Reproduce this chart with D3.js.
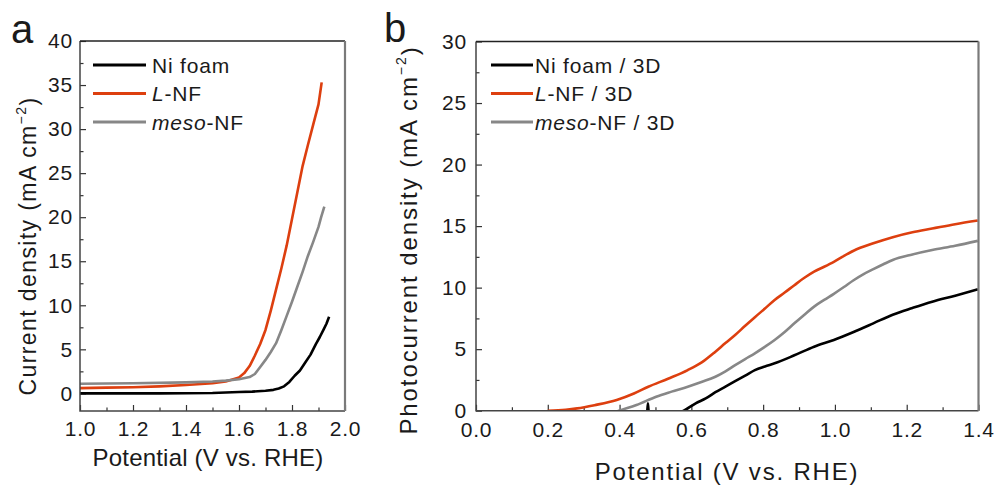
<!DOCTYPE html>
<html lang="en">
<head>
<meta charset="utf-8">
<title>LSV curves</title>
<script src="https://cdn.jsdelivr.net/npm/d3@7"></script>
<style>
  body { margin: 0; background: #fff; }
  svg text { font-family: "Liberation Sans", Arial, sans-serif; fill: #1a1a1a; }
</style>
</head>
<body>
<svg id="chart" width="999" height="487"></svg>
<script>
// ---- panel a : current density vs potential, [V, mA cm-2]
var niFoamA = [[1.0,0.0],[1.1,0.0],[1.2,0.0],[1.3,0.0],[1.4,0.02],[1.5,0.05],[1.55,0.1],[1.6,0.15],[1.65,0.2],[1.7,0.3],[1.73,0.4],[1.75,0.55],[1.77,0.8],[1.79,1.3],[1.81,2.0],[1.83,2.6],[1.85,3.5],[1.87,4.4],[1.89,5.6],[1.905,6.4],[1.92,7.3],[1.93,7.9],[1.94,8.7]];
var lNfA = [[1.0,0.6],[1.1,0.65],[1.2,0.7],[1.3,0.8],[1.4,0.95],[1.5,1.15],[1.55,1.35],[1.6,1.8],[1.62,2.3],[1.64,3.1],[1.66,4.3],[1.68,5.6],[1.7,7.2],[1.72,9.4],[1.74,11.8],[1.76,14.2],[1.78,16.8],[1.8,19.8],[1.82,22.8],[1.84,25.8],[1.86,28.2],[1.88,30.5],[1.9,32.8],[1.912,35.3]];
var mesoNfA = [[1.0,1.1],[1.2,1.15],[1.4,1.25],[1.5,1.35],[1.55,1.45],[1.6,1.6],[1.64,1.85],[1.66,2.2],[1.68,3.0],[1.7,3.8],[1.72,4.7],[1.74,5.7],[1.76,7.2],[1.78,8.8],[1.8,10.4],[1.82,12.1],[1.84,13.8],[1.86,15.6],[1.88,17.2],[1.9,18.9],[1.91,20.0],[1.922,21.2]];

// ---- panel b : photocurrent density vs potential
var niFoamB = [[0.44,-0.6],[0.476,-0.4],[0.479,0.6],[0.482,-0.4],[0.54,-0.5],[0.579,0.0],[0.612,0.6],[0.64,1.0],[0.667,1.5],[0.695,1.95],[0.722,2.4],[0.75,2.85],[0.777,3.3],[0.805,3.6],[0.832,3.85],[0.887,4.5],[0.942,5.2],[0.997,5.75],[1.052,6.4],[1.107,7.1],[1.161,7.8],[1.216,8.35],[1.271,8.86],[1.335,9.35],[1.398,9.86]];
var lNfB = [[0.2,0.0],[0.25,0.08],[0.282,0.19],[0.33,0.45],[0.392,0.87],[0.44,1.4],[0.48,1.95],[0.535,2.6],[0.59,3.3],[0.63,3.95],[0.667,4.8],[0.695,5.5],[0.722,6.15],[0.75,6.9],[0.777,7.6],[0.805,8.3],[0.832,9.0],[0.86,9.6],[0.887,10.2],[0.915,10.8],[0.942,11.3],[0.97,11.7],[0.997,12.1],[1.052,13.0],[1.107,13.6],[1.161,14.1],[1.216,14.5],[1.271,14.8],[1.335,15.15],[1.398,15.45]];
var mesoNfB = [[0.36,-0.4],[0.398,0.0],[0.447,0.46],[0.502,1.14],[0.545,1.55],[0.59,1.95],[0.63,2.35],[0.667,2.76],[0.695,3.2],[0.722,3.7],[0.75,4.2],[0.777,4.66],[0.805,5.2],[0.832,5.75],[0.86,6.4],[0.887,7.1],[0.915,7.8],[0.942,8.46],[0.97,9.0],[0.997,9.5],[1.025,10.05],[1.052,10.6],[1.08,11.1],[1.107,11.5],[1.135,11.9],[1.161,12.25],[1.216,12.7],[1.271,13.06],[1.335,13.4],[1.398,13.8]];

// ticks
var xTicksA = [1.0, 1.2, 1.4, 1.6, 1.8, 2.0];
var yTicksA = [0, 5, 10, 15, 20, 25, 30, 35, 40];
var xTicksB = [0.0, 0.2, 0.4, 0.6, 0.8, 1.0, 1.2, 1.4];
var yTicksB = [0, 5, 10, 15, 20, 25, 30];

// legend labels, pieces are [text, italic]
var legendA = [[["Ni foam", false]], [["L", true], ["-NF", false]], [["meso", true], ["-NF", false]]];
var legendB = [[["Ni foam / 3D", false]], [["L", true], ["-NF / 3D", false]], [["meso", true], ["-NF / 3D", false]]];

var colors = ["#000000", "#dd3f0f", "#878787"];

var svg = d3.select("#chart");

function drawPanel(p) {
  var x = d3.scaleLinear().domain(p.xDomain).range([p.left, p.right]);
  var y = d3.scaleLinear().domain(p.yDomain).range([p.bottom, p.top]);
  var g = svg.append("g");

  g.append("clipPath").attr("id", p.id + "-clip")
    .append("rect")
      .attr("x", p.left).attr("y", p.top)
      .attr("width", p.right - p.left).attr("height", p.bottom - p.top);

  // minor ticks halfway between the major ones
  var xMinor = [], yMinor = [];
  for (var i = 0; i < p.xTicks.length - 1; i++) xMinor.push((p.xTicks[i] + p.xTicks[i+1]) / 2);
  for (var j = 0; j < p.yTicks.length - 1; j++) yMinor.push((p.yTicks[j] + p.yTicks[j+1]) / 2);

  g.append("g").attr("transform", "translate(0," + p.bottom + ")")
    .call(d3.axisBottom(x).tickValues(xMinor).tickSize(-3.5).tickSizeOuter(0).tickFormat(""));
  g.append("g").attr("transform", "translate(" + p.left + ",0)")
    .call(d3.axisLeft(y).tickValues(yMinor).tickSize(-3.5).tickSizeOuter(0).tickFormat(""));

  g.append("g").attr("transform", "translate(0," + p.bottom + ")")
    .call(d3.axisBottom(x).tickValues(p.xTicks).tickSize(-6).tickSizeOuter(0)
      .tickPadding(p.xPad).tickFormat(d3.format(".1f")));
  g.append("g").attr("transform", "translate(" + p.left + ",0)")
    .call(d3.axisLeft(y).tickValues(p.yTicks).tickSize(-6).tickSizeOuter(0)
      .tickPadding(p.yPad).tickFormat(d3.format("d")));

  g.selectAll(".domain").remove();
  g.selectAll(".tick line").attr("stroke", "#333").attr("stroke-width", 1.2);
  g.selectAll(".tick text").attr("font-size", 21).attr("fill", "#1a1a1a")
    .style("font-family", '"Liberation Sans", Arial, sans-serif').style("letter-spacing", "0.8px");

  // curves
  var line = d3.line().curve(p.curve)
    .x(function(d) { return x(d[0]); }).y(function(d) { return y(d[1]); });
  g.append("g").attr("clip-path", "url(#" + p.id + "-clip)")
    .selectAll("path").data(p.series).enter().append("path")
      .attr("d", line)
      .attr("fill", "none")
      .attr("stroke", function(d, i) { return colors[i]; })
      .attr("stroke-width", 2.6)
      .attr("stroke-linejoin", "round");

  // frame
  g.append("path")
    .attr("d", "M" + p.left + "," + p.top + "V" + p.bottom + "H" + p.right)
    .attr("fill", "none").attr("stroke", "#444").attr("stroke-width", 1.5);
  g.append("line").attr("x1", p.left).attr("x2", p.right).attr("y1", p.top).attr("y2", p.top)
    .attr("stroke", "#222").attr("stroke-width", 1.5);
  g.append("line").attr("x1", p.right).attr("x2", p.right).attr("y1", p.top).attr("y2", p.bottom)
    .attr("stroke", "#7a7a7a").attr("stroke-width", 2.2);

  // legend
  p.legend.forEach(function(lab, i) {
    var ly = p.legY + i * 28.5;
    g.append("line").attr("x1", p.legX).attr("x2", p.legX + p.legLen)
      .attr("y1", ly).attr("y2", ly)
      .attr("stroke", colors[i]).attr("stroke-width", 3);
    var t = g.append("text").attr("x", p.legX + p.legLen + p.legGap).attr("y", ly)
      .attr("dy", "0.36em").attr("font-size", 21).style("letter-spacing", "0.8px");
    lab.forEach(function(piece) {
      t.append("tspan").text(piece[0]).attr("font-style", piece[1] ? "italic" : "normal");
    });
  });

  // axis titles
  g.append("text").attr("x", p.xTitle[0]).attr("y", p.xTitle[1])
    .attr("text-anchor", "middle").attr("dy", "0.36em")
    .attr("font-size", p.xTitleSize).style("letter-spacing", p.xTitleLs + "px")
    .text("Potential (V vs. RHE)");

  var yt = g.append("text")
    .attr("transform", "translate(" + p.yTitle[0] + "," + p.yTitle[1] + ") rotate(-90)")
    .attr("text-anchor", "middle").attr("dy", "0.36em")
    .attr("font-size", p.yTitleSize).style("letter-spacing", p.yTitleLs + "px");
  yt.append("tspan").text(p.yLabel + " (mA cm");
  yt.append("tspan").attr("font-size", 14).attr("dy", "-0.75em").text("\u22122");
  yt.append("tspan").attr("dy", "0.5em").text(")");

  // panel letter
  svg.append("text").attr("x", p.letter[0]).attr("y", p.letter[1])
    .attr("font-size", 40).text(p.id);
}

drawPanel({
  id: "a", left: 80, right: 345, top: 41, bottom: 411,
  xDomain: [1.0, 2.0], yDomain: [-2, 40],
  xTicks: xTicksA, yTicks: yTicksA, xPad: 10, yPad: 7,
  series: [niFoamA, lNfA, mesoNfA], legend: legendA, curve: d3.curveLinear,
  legX: 93, legLen: 53, legGap: 6, legY: 65,
  xTitle: [208, 457], xTitleSize: 24, xTitleLs: 0.2,
  yTitle: [28, 246], yTitleSize: 23, yTitleLs: 1.4, yLabel: "Current density",
  letter: [11, 43]
});

drawPanel({
  id: "b", left: 476, right: 978.5, top: 41.5, bottom: 410.7,
  xDomain: [0, 1.4], yDomain: [0, 30],
  xTicks: xTicksB, yTicks: yTicksB, xPad: 11, yPad: 9,
  series: [niFoamB, lNfB, mesoNfB], legend: legendB, curve: d3.curveMonotoneX,
  legX: 491, legLen: 42, legGap: 2, legY: 65,
  xTitle: [727, 471], xTitleSize: 24, xTitleLs: 1.8,
  yTitle: [408, 240], yTitleSize: 24, yTitleLs: 1.9, yLabel: "Photocurrent density",
  letter: [384, 42]
});
</script>
</body>
</html>
